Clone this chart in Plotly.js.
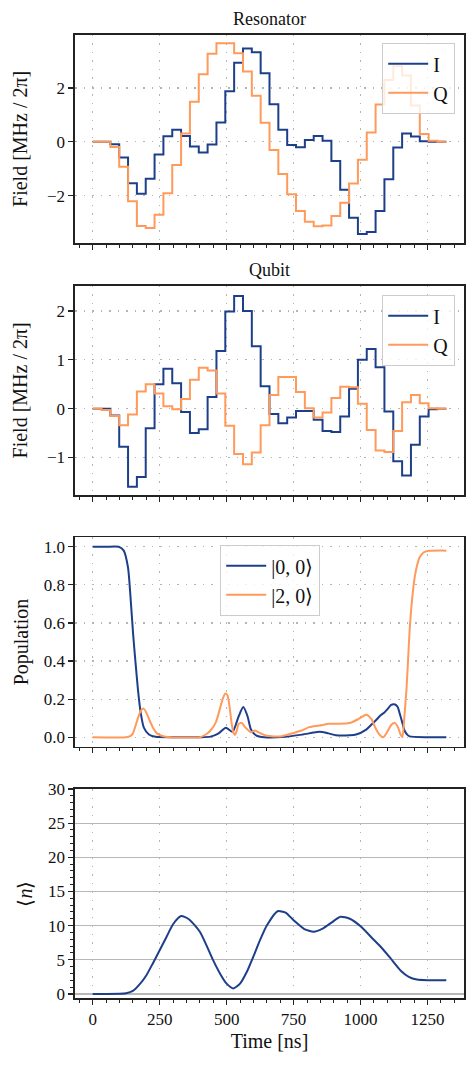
<!DOCTYPE html>
<html>
<head>
<meta charset="utf-8">
<script src="https://cdn.plot.ly/plotly-3.0.1.min.js"></script>
<style>html,body{margin:0;padding:0;background:#fff;}#chart{width:476px;height:1065px;}</style>
</head>
<body>
<div id="chart"></div>
<script>
// Segment boundaries (ns) of the piecewise-constant drives
const segTimes = [0,33,66,99,132,165,198,231,264,297,330,363,396,429,462,495,528,561,594,627,660,693,726,759,792,825,858,891,924,957,990,1023,1056,1089,1122,1155,1188,1221,1254,1287,1320];

const resonatorI = [0,0,-0.09,-0.58,-1.54,-1.93,-1.37,-0.47,0.21,0.45,0.22,-0.17,-0.40,-0.10,0.72,1.88,2.94,3.47,3.33,2.55,1.40,0.45,-0.12,-0.20,0.07,0.22,0.04,-0.71,-1.78,-2.82,-3.43,-3.35,-2.57,-1.39,-0.21,0.31,0.20,0.02,0,0];
const resonatorQ = [0,0,-0.19,-0.93,-2.21,-3.13,-3.20,-2.71,-1.91,-0.86,0.31,1.49,2.51,3.27,3.66,3.66,3.29,2.61,1.71,0.71,-0.30,-1.20,-1.95,-2.57,-2.97,-3.14,-3.11,-2.76,-2.26,-1.55,-0.67,0.35,1.39,2.30,2.81,2.46,1.35,0.29,0.04,0];
const qubitI = [0,0,-0.14,-0.78,-1.60,-1.40,-0.40,0.50,0.82,0.52,-0.07,-0.50,-0.42,0.24,1.18,1.99,2.31,2.00,1.28,0.46,-0.11,-0.30,-0.18,-0.05,-0.05,-0.23,-0.46,-0.48,-0.16,0.41,1.00,1.22,0.85,-0.06,-1.08,-1.37,-0.74,-0.16,-0.01,0];
const qubitQ = [0,-0.03,-0.15,-0.34,-0.12,0.35,0.50,0.31,0.05,-0.01,0.20,0.59,0.84,0.78,0.31,-0.35,-0.93,-1.14,-0.90,-0.34,0.28,0.65,0.65,0.34,0.01,-0.18,-0.08,0.22,0.45,0.44,0.10,-0.44,-0.86,-0.89,-0.46,0.13,0.28,0.11,0.01,0];

// Populations
const pop00T = [0,50,97,116,132,141,151,160,169,179,191,210,235,300,400,440,470,497,522,545,562,578,591,610,640,720,784,846,880,908,960,983,1021,1040,1058,1075,1089,1105,1114,1129,1138,1145,1155,1164,1175,1183,1250,1320];
const pop00V = [1,1,1,0.98,0.89,0.74,0.54,0.39,0.25,0.13,0.05,0.014,0.002,0,0,0.003,0.02,0.05,0.028,0.11,0.158,0.11,0.04,0.01,0,0.002,0.014,0.028,0.02,0.01,0.01,0.014,0.04,0.065,0.09,0.115,0.13,0.155,0.17,0.172,0.16,0.13,0.08,0.035,0.012,0.004,0,0];
const pop20T = [0,125,140,150,160,170,180,190,200,212,225,240,260,290,400,422,440,460,475,485,495,503,510,518,525,531,538,545,557,565,575,590,605,620,640,660,700,740,780,808,846,883,921,958,989,1021,1040,1055,1070,1085,1100,1115,1128,1140,1150,1156,1163,1171,1177,1183,1192,1202,1212,1221,1235,1250,1320];
const pop20V = [0,0,0.005,0.02,0.06,0.105,0.14,0.15,0.13,0.09,0.05,0.02,0.006,0,0,0.014,0.035,0.079,0.15,0.2,0.23,0.22,0.17,0.08,0.025,0.012,0.035,0.07,0.075,0.06,0.044,0.026,0.035,0.025,0.012,0.006,0.004,0.018,0.035,0.053,0.061,0.07,0.07,0.074,0.093,0.118,0.096,0.05,0.015,0.0,0.03,0.065,0.075,0.05,0.012,0,0.1,0.245,0.4,0.56,0.72,0.84,0.91,0.947,0.97,0.978,0.98];

// Mean photon number
const nT = [0,50,100,125,150,175,200,225,250,275,300,330,360,400,425,450,475,500,525,550,575,600,625,650,690,720,750,790,825,860,890,925,960,1000,1040,1075,1110,1150,1180,1210,1250,1320];
const nV = [0,0,0.02,0.1,0.44,1.4,2.7,4.5,6.4,8.3,10.2,11.4,10.9,9.1,7.1,4.9,3.0,1.5,0.8,1.5,3.2,5.5,7.9,10.0,12.1,11.9,10.8,9.5,9.1,9.6,10.4,11.3,11.0,9.9,8.3,6.9,5.3,3.4,2.5,2.1,2.0,2.0];

const blue = '#1d3f8a';
const orange = '#ff9a5a';
const FONT = 'Liberation Serif';
const INK = '#111111';
const GRID = '#b4b4b4';
const DOTS = '1.5px,7px';
const TICK = 17;
const LABEL = 20;

function stepY(v){ return v.concat([v[v.length-1]]); }

const traces = [
  {x: segTimes, y: stepY(resonatorI), xaxis:'x', yaxis:'y', name:'I', mode:'lines', line:{shape:'hv', color:blue, width:2}, legend:'legend'},
  {x: segTimes, y: stepY(resonatorQ), xaxis:'x', yaxis:'y', name:'Q', mode:'lines', line:{shape:'hv', color:orange, width:2}, legend:'legend'},
  {x: segTimes, y: stepY(qubitI), xaxis:'x2', yaxis:'y2', name:'I', mode:'lines', line:{shape:'hv', color:blue, width:2}, legend:'legend2'},
  {x: segTimes, y: stepY(qubitQ), xaxis:'x2', yaxis:'y2', name:'Q', mode:'lines', line:{shape:'hv', color:orange, width:2}, legend:'legend2'},
  {x: pop00T, y: pop00V, xaxis:'x3', yaxis:'y3', name:'|0, 0⟩', mode:'lines', line:{shape:'spline', smoothing:0.6, color:blue, width:2}, legend:'legend3'},
  {x: pop20T, y: pop20V, xaxis:'x3', yaxis:'y3', name:'|2, 0⟩', mode:'lines', line:{shape:'spline', smoothing:0.6, color:orange, width:2}, legend:'legend3'},
  {x: nT, y: nV, xaxis:'x4', yaxis:'y4', mode:'lines', showlegend:false, line:{shape:'spline', smoothing:0.6, color:blue, width:2}}
];

const XDOM = [75/476, 464/476];
const doms = [[1-243/1065, 1-34.7/1065],[1-495/1065, 1-285.7/1065],[1-746.7/1065, 1-537.3/1065],[1-998/1065, 1-789/1065]];
const XR = [-66, 1386];

function xax(anchor, showLabels){
  return {
    domain: XDOM, anchor: anchor, range: XR, dtick: 250, tick0: 0,
    showticklabels: showLabels, ticks:'outside', ticklen:5, tickwidth:1.2, tickcolor:'#222',
    minor:{dtick:50, tick0:0, ticks:'outside', ticklen:3, tickwidth:1, tickcolor:'#222', showgrid:false},
    showline:true, mirror:true, linecolor:'#222', linewidth:1.6,
    showgrid:true, gridcolor:GRID, griddash:DOTS, gridwidth:1.2, zeroline:false,
    tickfont:{family:FONT, size:TICK, color:INK}, automargin:false, fixedrange:true
  };
}
function yax(dom, range, dtick, title, standoff, extra){
  const a = {
    domain: dom, range: range, dtick: dtick, tick0:0,
    ticks:'outside', ticklen:5, tickwidth:1.2, tickcolor:'#222',
    showline:true, mirror:true, linecolor:'#222', linewidth:1.6,
    showgrid:true, gridcolor:GRID, griddash:DOTS, gridwidth:1.2, zeroline:false,
    tickfont:{family:FONT, size:TICK, color:INK}, automargin:false,
    title:{text:title, font:{family:FONT, size:LABEL, color:INK}, standoff:standoff}
  };
  return Object.assign(a, extra||{});
}

const legendBase = {
  bgcolor:'rgba(255,255,255,0.8)', bordercolor:'#cccccc', borderwidth:1.2,
  font:{family:FONT, size:20, color:INK}, xanchor:'right', yanchor:'top', tracegroupgap:0,
  itemwidth:40
};

const layout = {
  width:476, height:1065, margin:{l:0, r:0, t:0, b:0},
  paper_bgcolor:'#fff', plot_bgcolor:'#fff',
  font:{family:FONT, color:INK},
  xaxis: xax('y', false),
  xaxis2: Object.assign(xax('y2', false), {matches:'x'}),
  xaxis3: Object.assign(xax('y3', false), {matches:'x'}),
  xaxis4: Object.assign(xax('y4', true), {matches:'x', title:{text:'Time [ns]', font:{family:FONT, size:LABEL, color:INK}, standoff:6}}),
  yaxis: yax(doms[0], [-3.76, 3.98], 2, 'Field [MHz / 2π]', 14),
  yaxis2: yax(doms[1], [-1.77, 2.52], 1, 'Field [MHz / 2π]', 14),
  yaxis3: yax(doms[2], [-0.05, 1.05], 0.2, 'Population', 10, {tickformat:'.1f'}),
  yaxis4: yax(doms[3], [-0.6, 30], 5, '⟨<i>n</i>⟩', 10, {griddash:'solid', gridcolor:'#b8b8b8',
    minor:{dtick:1, tick0:0, ticks:'outside', ticklen:3, tickwidth:1, tickcolor:'#222', showgrid:false}}),
  legend: Object.assign({}, legendBase, {x:455/476, y:1-43/1065}),
  legend2: Object.assign({}, legendBase, {x:455/476, y:1-295/1065}),
  legend3: Object.assign({}, legendBase, {x:320/476, y:1-545/1065}),
  annotations:[
    {text:'Resonator', xref:'paper', yref:'paper', x:269.5/476, y:1-19/1065, showarrow:false, xanchor:'center', yanchor:'middle', font:{family:FONT, size:18, color:INK}},
    {text:'Qubit', xref:'paper', yref:'paper', x:269.5/476, y:1-270/1065, showarrow:false, xanchor:'center', yanchor:'middle', font:{family:FONT, size:18, color:INK}}
  ],
  showlegend:true
};

Plotly.newPlot('chart', traces, layout, {staticPlot:true, displayModeBar:false});
</script>
</body>
</html>
